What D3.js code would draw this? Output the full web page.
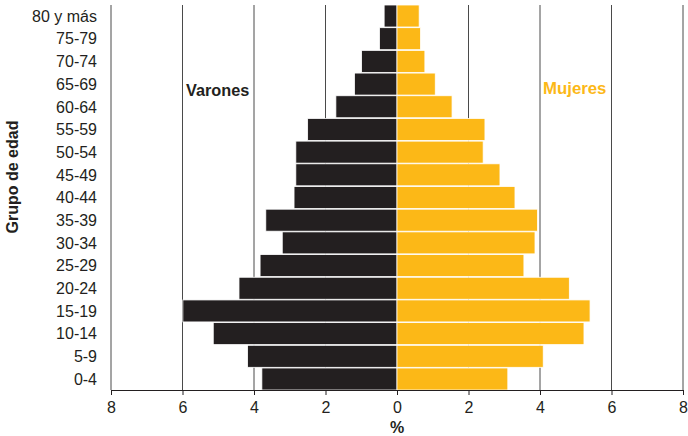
<!DOCTYPE html>
<html><head><meta charset="utf-8">
<script src="https://cdn.jsdelivr.net/npm/d3@7"></script>
<style>body{margin:0;background:#fff}svg{display:block;font-family:"Liberation Sans",Arial,Helvetica,sans-serif}</style>
</head><body><svg id="c" width="688" height="436"></svg>
<script>
const ageGroups = ["0-4","5-9","10-14","15-19","20-24","25-29","30-34","35-39","40-44","45-49","50-54","55-59","60-64","65-69","70-74","75-79","80 y más"];
const varones = [3.78,4.18,5.14,5.99,4.42,3.83,3.21,3.67,2.88,2.83,2.83,2.50,1.71,1.19,0.99,0.49,0.36];
const mujeres = [3.10,4.09,5.23,5.40,4.82,3.55,3.86,3.93,3.30,2.88,2.41,2.46,1.54,1.07,0.78,0.66,0.62];
const xTicks = [-8,-6,-4,-2,0,2,4,6,8];
const gridValues = [-8,-6,-4,-2,2,4,6,8];

const svg = d3.select("#c");
const x = d3.scaleLinear().domain([-8,8]).range([111,683]);
const y = d3.scaleBand().domain(ageGroups.slice().reverse()).range([5,390]).paddingInner(0.03).paddingOuter(0);

// gridlines
svg.append("g").selectAll("line").data(gridValues).join("line")
  .attr("x1",d=>x(d)).attr("x2",d=>x(d)).attr("y1",5).attr("y2",390)
  .attr("stroke","#4a4a4a").attr("stroke-width",1);

// bars
svg.append("g").selectAll("rect").data(ageGroups).join("rect")
  .attr("x",(d,i)=>x(-varones[i])).attr("width",(d,i)=>x(0)-x(-varones[i]))
  .attr("y",d=>y(d)).attr("height",y.bandwidth())
  .attr("fill","#231f20").attr("stroke","#fff").attr("stroke-width",0.8);
svg.append("g").selectAll("rect").data(ageGroups).join("rect")
  .attr("x",x(0)).attr("width",(d,i)=>x(mujeres[i])-x(0))
  .attr("y",d=>y(d)).attr("height",y.bandwidth())
  .attr("fill","#fcb817").attr("stroke","#fff").attr("stroke-width",0.8);

// x axis
const xa = svg.append("g").attr("transform","translate(0,390)")
  .call(d3.axisBottom(x).tickValues(xTicks).tickFormat(d=>Math.abs(d)).tickSize(5).tickSizeOuter(0));
xa.select(".domain").attr("stroke","#231f20").attr("stroke-width",1.2);
xa.selectAll(".tick line").attr("stroke","#231f20");
xa.selectAll("text").attr("font-size",16).attr("fill","#231f20").attr("dy","0.95em").attr("font-family","Liberation Sans, Arial, sans-serif");

// y labels
svg.append("g").selectAll("text").data(ageGroups).join("text")
  .attr("x",97).attr("y",d=>y(d)+y.bandwidth()/2).attr("dy","0.36em")
  .attr("text-anchor","end").attr("font-size",16).attr("fill","#231f20").text(d=>d);

// titles
svg.append("text").attr("transform","translate(18,177) rotate(-90)").attr("text-anchor","middle")
  .attr("font-size",16).attr("font-weight","bold").attr("fill","#231f20").text("Grupo de edad");
svg.append("text").attr("x",x(0)).attr("y",433).attr("text-anchor","middle")
  .attr("font-size",16).attr("font-weight","bold").attr("fill","#231f20").text("%");
svg.append("text").attr("x",186).attr("y",96)
  .attr("font-size",16.3).attr("font-weight","bold").attr("fill","#231f20").text("Varones");
svg.append("text").attr("x",543).attr("y",94)
  .attr("font-size",16.8).attr("font-weight","bold").attr("fill","#fcb817").text("Mujeres");
</script></body></html>
